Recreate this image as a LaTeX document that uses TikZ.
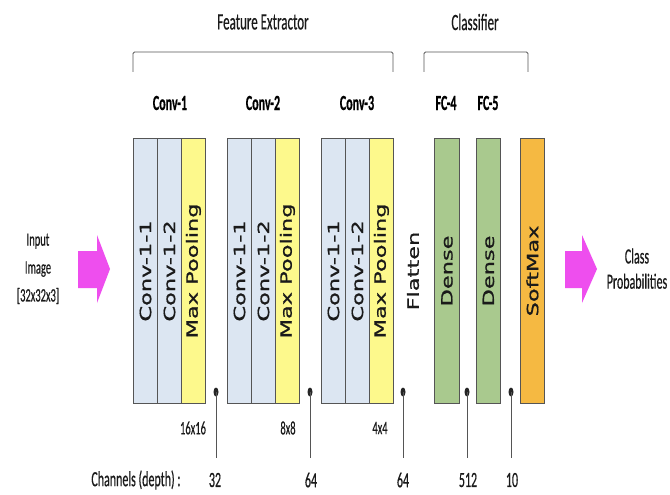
\documentclass[tikz,border=0pt]{standalone}
\usepackage{fontspec}
\setmainfont{Carlito}[FakeBold=0.6]
\newfontfamily\dvs{DejaVu Sans}[FakeBold=0.8]
\usetikzlibrary{shapes.geometric}
\definecolor{convc}{HTML}{DCE6F2}
\definecolor{poolc}{HTML}{FDF98C}
\definecolor{densec}{HTML}{A9C98E}
\definecolor{softc}{HTML}{F5B942}
\definecolor{bordc}{HTML}{555555}
\definecolor{arrc}{HTML}{EE4EEE}
\definecolor{txtc}{HTML}{1A1A1A}
\newcommand{\vst}[1]{\scalebox{1}[1.8]{#1}}
\newcommand{\rtx}[1]{\rotatebox{90}{\scalebox{1.45}[1]{\dvs #1}}}
\begin{document}
\begin{tikzpicture}[x=1pt,y=-1pt,
  box/.style={draw=bordc, line width=0.9pt, minimum width=24pt, minimum height=265pt,
    anchor=north west, inner sep=0pt, text=txtc, font=\fontsize{15.5}{16}\selectfont},
  conv/.style={box, fill=convc},
  pool/.style={box, fill=poolc},
  dense/.style={box, fill=densec},
  soft/.style={box, fill=softc},
  lbl/.style={inner sep=0pt, text=txtc, font=\fontsize{12}{14}\selectfont},
  blbl/.style={inner sep=0pt, text=black, font=\fontsize{12}{14}\selectfont\bfseries},
  hdr/.style={inner sep=0pt, text=txtc, font=\fontsize{13}{15}\selectfont},
  small/.style={inner sep=0pt, text=txtc, font=\fontsize{10.5}{12}\selectfont},
  dotn/.style={ellipse, fill=black!85, minimum width=5pt, minimum height=9pt, inner sep=0pt},
  chan/.style={draw=bordc, line width=0.8pt},
  brk/.style={draw=bordc, line width=0.8pt, rounded corners=1.5pt},
  bigarr/.style={fill=arrc}
]
\useasboundingbox (0,0) rectangle (670,495);
\fill[white] (0,0) rectangle (670,495);

% headers and brackets
\node[hdr] (fe) at (263,22) {\vst{Feature Extractor}};
\node[hdr] (cl) at (475,22) {\vst{Classifier}};
\coordinate (fa) at (133,72); \coordinate (fb) at (393,72);
\coordinate (ca) at (424,72); \coordinate (cb) at (528,72);
\draw[brk] (fa) -- (133,52) -- (393,52) -- (fb);
\draw[brk] (ca) -- (424,52) -- (528,52) -- (cb);

% block labels
\node[blbl] (l1) at (170,103) {\vst{Conv-1}};
\node[blbl] (l2) at (263,103) {\vst{Conv-2}};
\node[blbl] (l3) at (357,103) {\vst{Conv-3}};
\node[blbl] (l4) at (446,103) {\vst{FC-4}};
\node[blbl] (l5) at (488,103) {\vst{FC-5}};

% conv block 1
\node[conv] (c11) at (133,138) {\rtx{Conv-1-1}};
\node[conv] (c12) at (157,138) {\rtx{Conv-1-2}};
\node[pool] (c13) at (181,138) {\rtx{Max Pooling}};
% conv block 2
\node[conv] (c21) at (227,138) {\rtx{Conv-1-1}};
\node[conv] (c22) at (251,138) {\rtx{Conv-1-2}};
\node[pool] (c23) at (275,138) {\rtx{Max Pooling}};
% conv block 3
\node[conv] (c31) at (321,138) {\rtx{Conv-1-1}};
\node[conv] (c32) at (345,138) {\rtx{Conv-1-2}};
\node[pool] (c33) at (369,138) {\rtx{Max Pooling}};
% flatten
\node[inner sep=0pt, text=txtc, font=\fontsize{15.5}{16}\selectfont] (fl) at (413,271) {\rtx{Flatten}};
% dense and softmax
\node[dense, minimum width=25pt] (d4) at (434,138) {\rtx{Dense}};
\node[dense] (d5) at (476,138) {\rtx{Dense}};
\node[soft] (sm) at (520,138) {\rtx{SoftMax}};

% input / output
\node[small, font=\fontsize{10.5}{15.5}\selectfont] (inp) at (38,268)
  {\vst{\begin{tabular}{@{}c@{}}Input\\Image\\{[32x32x3]}\end{tabular}}};
\fill[bigarr] (78,251) -- (97,251) -- (97,235) -- (110,269) -- (97,303) -- (97,288) -- (78,288) -- cycle;
\fill[bigarr] (565,251) -- (582,251) -- (582,235) -- (597,269) -- (582,303) -- (582,288) -- (565,288) -- cycle;
\node[lbl, font=\fontsize{12}{14}\selectfont] (out) at (637,271)
  {\vst{\begin{tabular}{@{}c@{}}Class\\Probabilities\end{tabular}}};

% spatial sizes
\node[small] (s1) at (193,428) {\vst{16x16}};
\node[small] (s2) at (288,428) {\vst{8x8}};
\node[small] (s3) at (380,428) {\vst{4x4}};

% channel markers
\node[dotn] (p1) at (216,392) {};
\node[dotn] (p2) at (310,392) {};
\node[dotn] (p3) at (403,392) {};
\node[dotn] (p4) at (467,392) {};
\node[dotn] (p5) at (511,392) {};
\coordinate (e1) at (216,458);
\coordinate (e2) at (310,458);
\coordinate (e3) at (403,458);
\coordinate (e4) at (467,458);
\coordinate (e5) at (511,458);
\draw[chan] (p1.center) -- (e1);
\draw[chan] (p2.center) -- (e2);
\draw[chan] (p3.center) -- (e3);
\draw[chan] (p4.center) -- (e4);
\draw[chan] (p5.center) -- (e5);

\node[lbl] (ch) at (136,480) {\vst{Channels (depth) :}};
\node[lbl] (n1) at (215,480) {\vst{32}};
\node[lbl] (n2) at (311,480) {\vst{64}};
\node[lbl] (n3) at (403,480) {\vst{64}};
\node[lbl] (n4) at (468,480) {\vst{512}};
\node[lbl] (n5) at (512,480) {\vst{10}};
\end{tikzpicture}
\end{document}
